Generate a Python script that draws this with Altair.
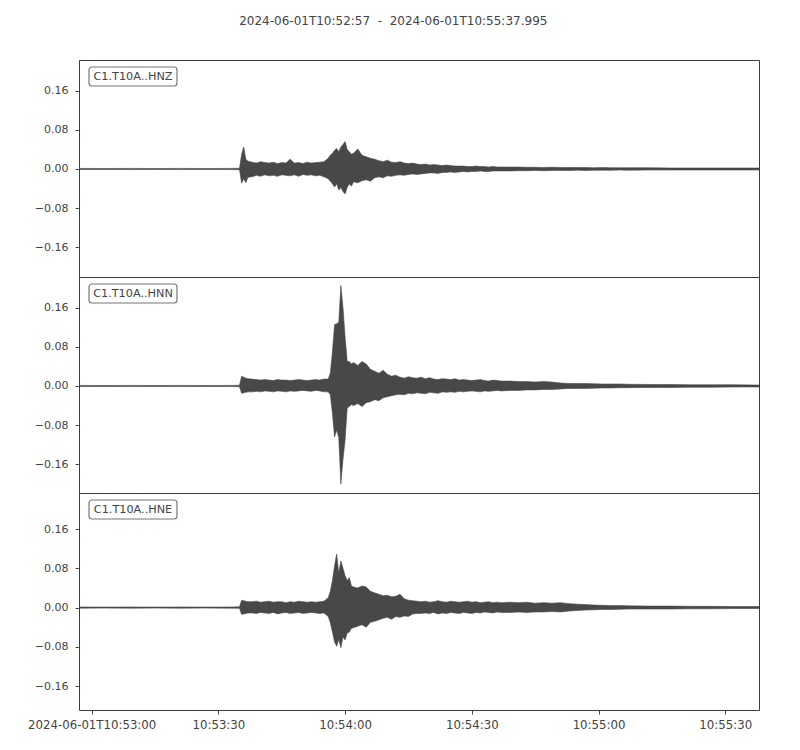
import altair as alt
import pandas as pd

# ---------------- data ----------------
channels = ["C1.T10A..HNZ", "C1.T10A..HNN", "C1.T10A..HNE"]
title_text = "2024-06-01T10:52:57 \u00a0-\u00a0 2024-06-01T10:55:37.995"

# seconds after 2024-06-01T10:52:57
times = [0, 6, 12, 18, 24, 30, 36, 38, 38.5, 39, 39.5, 40,
         41, 42, 43, 44, 45, 46, 47, 48, 49, 50, 51, 52, 53, 54, 55, 56, 57, 58,
         59, 59.5, 60, 60.5, 61, 61.5, 62, 62.5, 63, 63.5, 64, 64.5, 65,
         66, 67, 68, 69, 70, 71, 72, 73, 74, 75, 76, 77, 78, 79, 80, 81, 82, 83,
         84, 85, 86, 87, 88, 89, 90, 91, 92, 93, 94, 95, 96, 97, 98, 99, 100,
         102, 104, 106, 108, 110, 112, 114, 116, 118, 120, 122, 124, 126, 128, 130,
         135, 140, 145, 150, 155, 160, 160.995]

# upper / lower envelopes of each trace
hnz_upper = [0.0012, 0.0010, 0.0012, 0.0010, 0.0012, 0.0010, 0.0012, 0.0015, 0.030, 0.045, 0.020, 0.016,
             0.014, 0.012, 0.015, 0.013, 0.012, 0.014, 0.011, 0.013, 0.012, 0.020, 0.012, 0.013, 0.011, 0.014, 0.012, 0.013, 0.014, 0.015,
             0.022, 0.028, 0.032, 0.038, 0.042, 0.035, 0.045, 0.050, 0.056, 0.040, 0.035, 0.030, 0.032,
             0.041, 0.028, 0.025, 0.022, 0.020, 0.017, 0.015, 0.018, 0.014, 0.013, 0.015, 0.012, 0.011, 0.012, 0.010, 0.009, 0.010, 0.008,
             0.009, 0.008, 0.007, 0.008, 0.007, 0.006, 0.006, 0.006, 0.005, 0.005, 0.006, 0.005, 0.005, 0.004, 0.005, 0.004, 0.004,
             0.004, 0.004, 0.0035, 0.0035, 0.003, 0.0035, 0.003, 0.003, 0.003, 0.003, 0.0025, 0.003, 0.0025, 0.0025, 0.0025,
             0.0025, 0.002, 0.002, 0.002, 0.002, 0.002, 0.002]
hnz_lower = [-0.0012, -0.0010, -0.0012, -0.0010, -0.0012, -0.0010, -0.0012, -0.0015, -0.029, -0.020, -0.028, -0.017,
             -0.016, -0.013, -0.015, -0.012, -0.014, -0.013, -0.015, -0.012, -0.013, -0.014, -0.012, -0.015, -0.011, -0.013, -0.012, -0.014, -0.013, -0.016,
             -0.020, -0.025, -0.030, -0.037, -0.030, -0.043, -0.038, -0.046, -0.051, -0.038, -0.030, -0.035, -0.026,
             -0.028, -0.024, -0.022, -0.025, -0.018, -0.016, -0.018, -0.014, -0.015, -0.013, -0.012, -0.013, -0.011, -0.010, -0.011, -0.010, -0.009, -0.008,
             -0.008, -0.009, -0.007, -0.007, -0.006, -0.007, -0.006, -0.005, -0.006, -0.005, -0.005, -0.004, -0.005, -0.005, -0.004, -0.004, -0.004,
             -0.004, -0.0035, -0.0035, -0.003, -0.0035, -0.003, -0.003, -0.003, -0.0025, -0.003, -0.0025, -0.0025, -0.0025, -0.002, -0.0025,
             -0.002, -0.002, -0.002, -0.002, -0.002, -0.002, -0.002]

hnn_upper = [0.0012, 0.0010, 0.0012, 0.0010, 0.0012, 0.0010, 0.0012, 0.0015, 0.020, 0.018, 0.016, 0.015,
             0.014, 0.013, 0.012, 0.013, 0.012, 0.011, 0.013, 0.012, 0.012, 0.011, 0.012, 0.013, 0.012, 0.011, 0.012, 0.013, 0.012, 0.014,
             0.014, 0.026, 0.070, 0.125, 0.127, 0.130, 0.205, 0.160, 0.100, 0.050, 0.050, 0.045, 0.048,
             0.042, 0.050, 0.045, 0.034, 0.030, 0.026, 0.032, 0.024, 0.020, 0.022, 0.018, 0.016, 0.019, 0.017, 0.016, 0.018, 0.015, 0.017,
             0.014, 0.013, 0.015, 0.014, 0.013, 0.015, 0.012, 0.013, 0.012, 0.011, 0.012, 0.013, 0.011, 0.010, 0.012, 0.011, 0.010,
             0.010, 0.009, 0.009, 0.008, 0.009, 0.008, 0.006, 0.005, 0.005, 0.005, 0.0045, 0.004, 0.004, 0.004, 0.0035,
             0.003, 0.003, 0.0025, 0.0025, 0.0025, 0.002, 0.002]
hnn_lower = [-0.0012, -0.0010, -0.0012, -0.0010, -0.0012, -0.0010, -0.0012, -0.0015, -0.015, -0.014, -0.013, -0.012,
             -0.012, -0.011, -0.012, -0.010, -0.011, -0.012, -0.010, -0.011, -0.012, -0.010, -0.011, -0.010, -0.009, -0.010, -0.011, -0.009, -0.010, -0.012,
             -0.012, -0.018, -0.056, -0.104, -0.090, -0.105, -0.200, -0.150, -0.110, -0.045, -0.042, -0.038, -0.040,
             -0.036, -0.042, -0.034, -0.032, -0.028, -0.030, -0.024, -0.022, -0.020, -0.018, -0.017, -0.018, -0.015, -0.016, -0.014, -0.015, -0.016, -0.013,
             -0.014, -0.015, -0.012, -0.013, -0.012, -0.013, -0.011, -0.012, -0.011, -0.010, -0.011, -0.012, -0.010, -0.011, -0.010, -0.009, -0.010,
             -0.009, -0.009, -0.008, -0.008, -0.007, -0.007, -0.006, -0.005, -0.005, -0.005, -0.0045, -0.004, -0.004, -0.0035, -0.0035,
             -0.003, -0.003, -0.0025, -0.0025, -0.002, -0.002, -0.002]

hne_upper = [0.0012, 0.0010, 0.0012, 0.0010, 0.0012, 0.0010, 0.0012, 0.0015, 0.015, 0.014, 0.013, 0.012,
             0.012, 0.013, 0.011, 0.012, 0.013, 0.011, 0.012, 0.012, 0.010, 0.012, 0.011, 0.013, 0.012, 0.011, 0.012, 0.011, 0.012, 0.013,
             0.020, 0.033, 0.055, 0.085, 0.109, 0.070, 0.095, 0.080, 0.065, 0.055, 0.061, 0.044, 0.042,
             0.040, 0.044, 0.042, 0.033, 0.030, 0.027, 0.024, 0.025, 0.022, 0.023, 0.027, 0.018, 0.015, 0.014, 0.013, 0.012, 0.013, 0.011,
             0.012, 0.014, 0.012, 0.011, 0.013, 0.012, 0.011, 0.012, 0.013, 0.011, 0.012, 0.010, 0.011, 0.012, 0.010, 0.011, 0.010,
             0.011, 0.010, 0.011, 0.009, 0.010, 0.009, 0.010, 0.008, 0.007, 0.006, 0.005, 0.0045, 0.004, 0.004, 0.0035,
             0.003, 0.003, 0.0025, 0.0025, 0.002, 0.002, 0.002]
hne_lower = [-0.0012, -0.0010, -0.0012, -0.0010, -0.0012, -0.0010, -0.0012, -0.0015, -0.014, -0.013, -0.012, -0.011,
             -0.011, -0.012, -0.010, -0.011, -0.012, -0.010, -0.013, -0.011, -0.010, -0.012, -0.011, -0.010, -0.012, -0.011, -0.010, -0.011, -0.012, -0.011,
             -0.018, -0.031, -0.050, -0.070, -0.079, -0.065, -0.082, -0.060, -0.066, -0.052, -0.050, -0.042, -0.041,
             -0.038, -0.035, -0.040, -0.030, -0.028, -0.025, -0.022, -0.020, -0.024, -0.018, -0.020, -0.017, -0.018, -0.013, -0.012, -0.012, -0.011, -0.012,
             -0.010, -0.013, -0.011, -0.012, -0.010, -0.011, -0.012, -0.010, -0.011, -0.012, -0.010, -0.011, -0.009, -0.010, -0.011, -0.009, -0.010,
             -0.010, -0.009, -0.010, -0.009, -0.009, -0.008, -0.009, -0.007, -0.006, -0.005, -0.0045, -0.004, -0.004, -0.0035, -0.003,
             -0.003, -0.003, -0.0025, -0.0025, -0.002, -0.002, -0.002]

tick_seconds = [3, 33, 63, 93, 123, 153]
tick_labels = ["2024-06-01T10:53:00", "10:53:30", "10:54:00", "10:54:30", "10:55:00", "10:55:30"]
y_ticks = [-0.16, -0.08, 0.0, 0.08, 0.16]
x_domain = [0, 160.995]
y_domains = [[-0.2204, 0.2224], [-0.2184, 0.2224], [-0.2088, 0.2335]]

# ---------------- styling ----------------
FONT = "DejaVu Sans"
INK = "#444444"
TRACE = "#484848"

label_expr = ""
for s, lab in zip(tick_seconds, tick_labels):
    label_expr += f"datum.value == {s} ? '{lab}' : "
label_expr += "''"


def panel(name, upper, lower, ydom, height, bottom):
    df = pd.DataFrame({"t": times, "upper": upper, "lower": lower})
    if bottom:
        xaxis = alt.Axis(values=tick_seconds, labelExpr=label_expr, title=None, grid=False,
                         domain=False, tickSize=4, tickColor=INK, labelColor=INK,
                         labelFont=FONT, labelFontSize=11.75, labelPadding=5)
    else:
        xaxis = None
    yaxis = alt.Axis(values=y_ticks, format=".2f", title=None, grid=False, domain=False,
                     tickSize=4, tickColor=INK, labelColor=INK, labelFont=FONT,
                     labelFontSize=11, labelPadding=7)
    area = alt.Chart(df).mark_area(color=TRACE, stroke=TRACE, strokeWidth=0.6, clip=True).encode(
        x=alt.X("t:Q", scale=alt.Scale(domain=x_domain, nice=False, zero=False), axis=xaxis),
        y=alt.Y("upper:Q", scale=alt.Scale(domain=ydom, nice=False, zero=False), axis=yaxis),
        y2="lower:Q",
    )
    lab_df = pd.DataFrame({"label": [name]})
    box = alt.Chart(lab_df).mark_rect(fill="white", stroke="#777777", strokeWidth=1.2,
                                      cornerRadius=3).encode(
        x=alt.value(10), x2=alt.value(98), y=alt.value(7), y2=alt.value(26))
    txt = alt.Chart(lab_df).mark_text(font=FONT, fontSize=11.25, color=INK, align="center",
                                      baseline="middle").encode(
        text="label:N", x=alt.value(54), y=alt.value(16.5))
    return alt.layer(area, box, txt).properties(width=680, height=height)


p1 = panel(channels[0], hnz_upper, hnz_lower, y_domains[0], 217, False)
p2 = panel(channels[1], hnn_upper, hnn_lower, y_domains[1], 216, False)
p3 = panel(channels[2], hne_upper, hne_lower, y_domains[2], 217, True)

chart = alt.vconcat(p1, p2, p3, spacing=0, bounds="flush").properties(
    title=alt.Title(text=title_text, anchor="middle", frame="bounds", font=FONT,
                    fontSize=12, fontWeight="normal", color=INK, offset=32),
    padding={"left": 19, "top": 6, "right": 10, "bottom": 10},
).configure(background="white").configure_view(stroke="#3c3c3c", strokeWidth=1)

chart.save("out.html", embed_options={"renderer": "svg", "actions": False})
